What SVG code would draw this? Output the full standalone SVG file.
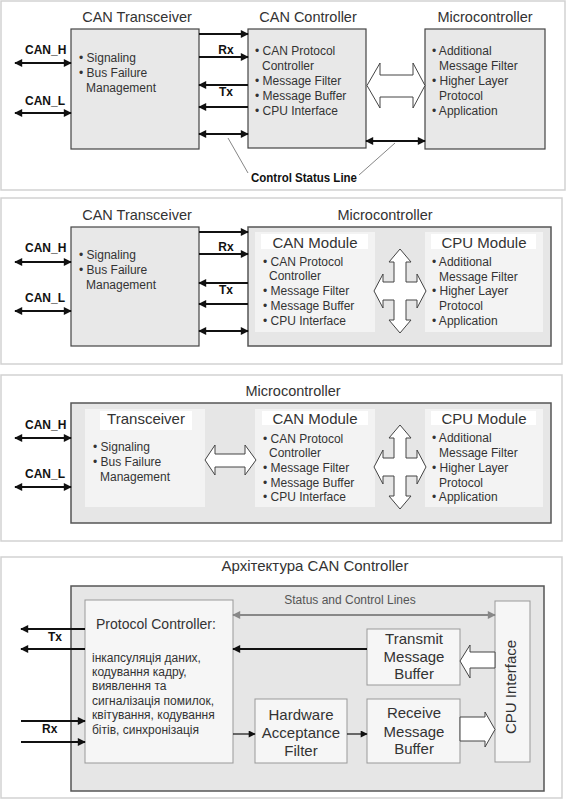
<svg xmlns="http://www.w3.org/2000/svg" width="567" height="800" viewBox="0 0 567 800">
<defs>
<style>
text{font-family:"Liberation Sans",Arial,sans-serif;fill:#333}
.frame{fill:#fff;stroke:#d2d2d2;stroke-width:1.5}
.box{fill:#e8e8e8;stroke:#444;stroke-width:1.2}
.mc{fill:#e6e6e6;stroke:#555;stroke-width:1.5}
.inner{fill:#f3f3f3;stroke:none}
.hdr{fill:#fff;stroke:none}
.ibox{fill:#f6f6f6;stroke:#999;stroke-width:1}
.ttl{font-size:14.5px;text-anchor:middle}
.t15{font-size:15px;text-anchor:middle}
.bl{font-size:12px}
.lbl{font-size:12px;font-weight:bold;fill:#111}
.ar{stroke:#111;stroke-width:2;fill:none;marker-end:url(#ah)}
.ar2{stroke:#111;stroke-width:2;fill:none;marker-start:url(#ah);marker-end:url(#ah)}
.ars{stroke:#111;stroke-width:1.2;fill:none;marker-end:url(#ahs)}
.hol{fill:#fff;stroke:#444;stroke-width:1}
.lead{stroke:#666;stroke-width:0.8;fill:none}
</style>
<marker id="ah" viewBox="0 0 10 10" refX="9" refY="5" markerWidth="9" markerHeight="8" markerUnits="userSpaceOnUse" orient="auto-start-reverse"><path d="M0,0 L10,5 L0,10 z" fill="#111"/></marker>
<marker id="ahs" viewBox="0 0 10 10" refX="9" refY="5" markerWidth="8" markerHeight="7" markerUnits="userSpaceOnUse" orient="auto-start-reverse"><path d="M0,0 L10,5 L0,10 z" fill="#111"/></marker>
<marker id="ahg" viewBox="0 0 10 10" refX="9" refY="5" markerWidth="10" markerHeight="8" markerUnits="userSpaceOnUse" orient="auto-start-reverse"><path d="M0,0 L10,5 L0,10 z" fill="#888"/></marker>
<path id="cross" d="M0,-42 L11,-29 L6,-29 L6,-9 L17,-9 L17,-17 L26,0 L17,17 L17,9 L6,9 L6,29 L11,29 L0,42 L-11,29 L-6,29 L-6,9 L-17,9 L-17,17 L-26,0 L-17,-17 L-17,-9 L-6,-9 L-6,-29 L-11,-29 Z"/>
</defs>

<!-- Panel frames -->
<g id="frames">
<rect class="frame" x="1" y="1" width="564" height="189"/>
<rect class="frame" x="1" y="198" width="561" height="166"/>
<rect class="frame" x="1" y="375" width="561" height="166"/>
<rect class="frame" x="1" y="557" width="561" height="241"/>
</g>

<!-- ===== Panel 1 ===== -->
<g id="p1-transceiver">
<text class="ttl" x="137" y="22">CAN Transceiver</text>
<rect class="box" x="71" y="29" width="128" height="120"/>
<text class="bl" x="79" y="62">• Signaling</text>
<text class="bl" x="79" y="77">• Bus Failure</text>
<text class="bl" x="86" y="92">Management</text>
</g>
<g id="p1-controller">
<text class="ttl" x="308" y="22">CAN Controller</text>
<rect class="box" x="248" y="29" width="118" height="119"/>
<text class="bl" x="255" y="55">• CAN Protocol</text>
<text class="bl" x="262" y="70">Controller</text>
<text class="bl" x="255" y="85">• Message Filter</text>
<text class="bl" x="255" y="100">• Message Buffer</text>
<text class="bl" x="255" y="115">• CPU Interface</text>
</g>
<g id="p1-micro">
<text class="ttl" x="485" y="22">Microcontroller</text>
<rect class="box" x="425" y="29" width="120" height="120"/>
<text class="bl" x="432" y="55">• Additional</text>
<text class="bl" x="439" y="70">Message Filter</text>
<text class="bl" x="432" y="85">• Higher Layer</text>
<text class="bl" x="439" y="100">Protocol</text>
<text class="bl" x="432" y="115">• Application</text>
</g>
<g id="p1-connectors">
<text class="lbl" x="25" y="54">CAN_H</text>
<line class="ar2" x1="15" y1="63" x2="71" y2="63"/>
<text class="lbl" x="25" y="105">CAN_L</text>
<line class="ar2" x1="15" y1="113" x2="71" y2="113"/>
<line class="ar" x1="199" y1="34" x2="248" y2="34"/>
<line class="ar" x1="199" y1="57" x2="248" y2="57"/>
<text class="lbl" x="226" y="54" text-anchor="middle">Rx</text>
<line class="ar" x1="248" y1="85" x2="199" y2="85"/>
<text class="lbl" x="226" y="96" text-anchor="middle">Tx</text>
<line class="ar" x1="248" y1="107" x2="199" y2="107"/>
<line class="ar2" x1="199" y1="134" x2="248" y2="134"/>
<line class="ar2" x1="366" y1="141" x2="425" y2="141"/>
<path class="hol" d="M367,85.5 L380,63 L380,75 L413,75 L413,63 L425,85.5 L413,108 L413,97 L380,97 L380,108 Z"/>
<line class="lead" x1="228" y1="138" x2="248" y2="173"/>
<line class="lead" x1="359" y1="175" x2="395" y2="143"/>
<text class="lbl" x="251" y="182" textLength="106" lengthAdjust="spacingAndGlyphs">Control Status Line</text>
</g>

<!-- ===== Panel 2 ===== -->
<g id="p2-transceiver">
<text class="ttl" x="137" y="220">CAN Transceiver</text>
<rect class="box" x="71" y="227" width="128" height="119"/>
<text class="bl" x="79" y="259">• Signaling</text>
<text class="bl" x="79" y="274">• Bus Failure</text>
<text class="bl" x="86" y="289">Management</text>
</g>
<g id="p2-micro">
<text class="ttl" x="385" y="220">Microcontroller</text>
<rect class="mc" x="248" y="227" width="303" height="119"/>
</g>
<g id="p2-canmodule">
<rect class="inner" x="255" y="232" width="120" height="100"/>
<rect class="hdr" x="261" y="234" width="107" height="15"/>
<text class="t15" x="315" y="248">CAN Module</text>
<text class="bl" x="263" y="266">• CAN Protocol</text>
<text class="bl" x="269" y="280">Controller</text>
<text class="bl" x="263" y="295">• Message Filter</text>
<text class="bl" x="263" y="310">• Message Buffer</text>
<text class="bl" x="263" y="325">• CPU Interface</text>
</g>
<g id="p2-cpumodule">
<rect class="inner" x="425" y="232" width="118" height="100"/>
<rect class="hdr" x="431" y="234" width="105" height="15"/>
<text class="t15" x="484" y="248">CPU Module</text>
<text class="bl" x="432" y="266">• Additional</text>
<text class="bl" x="439" y="281">Message Filter</text>
<text class="bl" x="432" y="295">• Higher Layer</text>
<text class="bl" x="439" y="310">Protocol</text>
<text class="bl" x="432" y="325">• Application</text>
</g>
<g id="p2-connectors">
<text class="lbl" x="25" y="252">CAN_H</text>
<line class="ar2" x1="15" y1="262" x2="71" y2="262"/>
<text class="lbl" x="25" y="302">CAN_L</text>
<line class="ar2" x1="15" y1="311" x2="71" y2="311"/>
<line class="ar" x1="199" y1="232" x2="248" y2="232"/>
<line class="ar" x1="199" y1="254" x2="248" y2="254"/>
<text class="lbl" x="226" y="251" text-anchor="middle">Rx</text>
<line class="ar" x1="248" y1="283" x2="199" y2="283"/>
<text class="lbl" x="226" y="294" text-anchor="middle">Tx</text>
<line class="ar" x1="248" y1="304" x2="199" y2="304"/>
<line class="ar2" x1="199" y1="331" x2="248" y2="331"/>
<use href="#cross" class="hol" transform="translate(400,291)"/>
</g>

<!-- ===== Panel 3 ===== -->
<g id="p3-micro">
<text class="ttl" x="293" y="396">Microcontroller</text>
<rect class="mc" x="71" y="403" width="480" height="120"/>
</g>
<g id="p3-transceiver">
<rect class="inner" x="85" y="409" width="120" height="98"/>
<rect class="hdr" x="100" y="411" width="92" height="19"/>
<text class="t15" x="146" y="424">Transceiver</text>
<text class="bl" x="93" y="451">• Signaling</text>
<text class="bl" x="93" y="466">• Bus Failure</text>
<text class="bl" x="100" y="481">Management</text>
</g>
<g id="p3-canmodule">
<rect class="inner" x="255" y="409" width="120" height="98"/>
<rect class="hdr" x="262" y="411" width="106" height="14"/>
<text class="t15" x="315" y="424">CAN Module</text>
<text class="bl" x="263" y="443">• CAN Protocol</text>
<text class="bl" x="269" y="457">Controller</text>
<text class="bl" x="263" y="472">• Message Filter</text>
<text class="bl" x="263" y="487">• Message Buffer</text>
<text class="bl" x="263" y="501">• CPU Interface</text>
</g>
<g id="p3-cpumodule">
<rect class="inner" x="425" y="409" width="118" height="98"/>
<rect class="hdr" x="431" y="411" width="105" height="14"/>
<text class="t15" x="484" y="424">CPU Module</text>
<text class="bl" x="432" y="442">• Additional</text>
<text class="bl" x="439" y="457">Message Filter</text>
<text class="bl" x="432" y="472">• Higher Layer</text>
<text class="bl" x="439" y="487">Protocol</text>
<text class="bl" x="432" y="501">• Application</text>
</g>
<g id="p3-connectors">
<text class="lbl" x="25" y="429">CAN_H</text>
<line class="ar2" x1="15" y1="438" x2="71" y2="438"/>
<text class="lbl" x="25" y="478">CAN_L</text>
<line class="ar2" x1="15" y1="487" x2="71" y2="487"/>
<path class="hol" d="M205,460 L215,445 L215,454 L245,454 L245,445 L256,460 L245,475 L245,467 L215,467 L215,475 Z"/>
<use href="#cross" class="hol" transform="translate(400,467)"/>
</g>

<!-- ===== Panel 4 ===== -->
<g id="p4-controller">
<text class="t15" x="315" y="571">Архітектура CAN Controller</text>
<rect class="mc" x="71" y="586" width="473" height="205"/>
</g>
<g id="p4-protocol">
<rect class="ibox" x="85" y="600" width="148" height="163"/>
<text x="96" y="629" style="font-size:14px">Protocol Controller:</text>
<text class="bl" x="92" y="662">інкапсуляція даних,</text>
<text class="bl" x="92" y="676">кодування кадру,</text>
<text class="bl" x="92" y="690">виявлення та</text>
<text class="bl" x="92" y="705">сигналізація помилок,</text>
<text class="bl" x="92" y="719">квітування, кодування</text>
<text class="bl" x="92" y="734">бітів, синхронізація</text>
</g>
<g id="p4-transmit">
<rect class="ibox" x="367" y="629" width="93" height="56"/>
<text class="t15" x="414" y="644">Transmit</text>
<text class="t15" x="414" y="662">Message</text>
<text class="t15" x="414" y="679">Buffer</text>
</g>
<g id="p4-filter">
<rect class="ibox" x="255" y="699" width="92" height="64"/>
<text class="t15" x="301" y="720">Hardware</text>
<text class="t15" x="301" y="738">Acceptance</text>
<text class="t15" x="301" y="756">Filter</text>
</g>
<g id="p4-receive">
<rect class="ibox" x="367" y="699" width="93" height="64"/>
<text class="t15" x="414" y="718">Receive</text>
<text class="t15" x="414" y="737">Message</text>
<text class="t15" x="414" y="754">Buffer</text>
</g>
<g id="p4-cpuif">
<rect class="ibox" x="495" y="601" width="35" height="161"/>
<text class="t15" transform="translate(516,687) rotate(-90)">CPU Interface</text>
</g>
<g id="p4-connectors">
<line class="ar" x1="85" y1="629" x2="21" y2="629"/>
<line class="ar" x1="85" y1="649" x2="21" y2="649"/>
<text class="lbl" x="48" y="641">Tx</text>
<line class="ar" x1="21" y1="721" x2="85" y2="721"/>
<line class="ar" x1="21" y1="742" x2="85" y2="742"/>
<text class="lbl" x="42" y="733">Rx</text>
<line x1="233" y1="615" x2="495" y2="615" stroke="#888" stroke-width="2" marker-start="url(#ahg)" marker-end="url(#ahg)"/>
<text x="350" y="604" style="font-size:12px;text-anchor:middle;fill:#555">Status and Control Lines</text>
<line class="ar" x1="367" y1="649" x2="233" y2="649"/>
<line class="ars" x1="233" y1="734" x2="255" y2="734"/>
<line class="ars" x1="347" y1="734" x2="367" y2="734"/>
<path class="hol" d="M460,661 L470,645 L470,652 L495,652 L495,668 L470,668 L470,678 Z"/>
<path class="hol" d="M460,717 L485,717 L485,712 L495,729.5 L485,747 L485,741 L460,741 Z"/>
</g>
</svg>
